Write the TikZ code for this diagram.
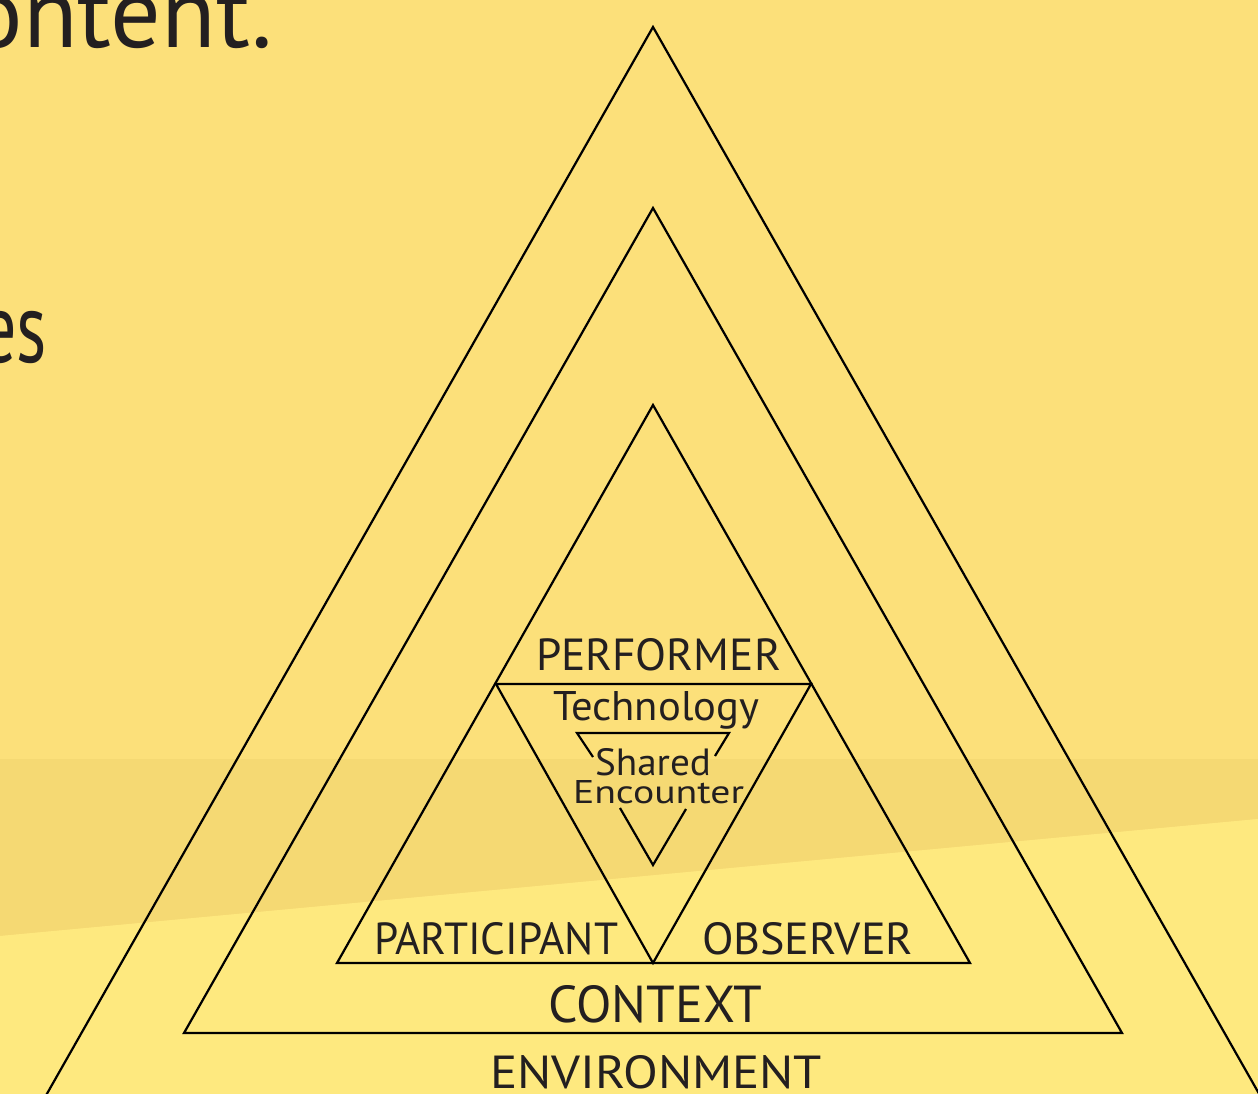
\documentclass[tikz,border=0pt]{standalone}
\usepackage{fontspec}
\setmainfont{PT Sans}
\definecolor{bgtop}{RGB}{252,224,122}
\definecolor{bgband}{RGB}{245,217,115}
\definecolor{bgbot}{RGB}{254,233,127}
\definecolor{ink}{RGB}{35,31,32}
\tikzset{
  tri/.style={draw=black, line width=2.2pt, line join=miter},
  lbl/.style={anchor=base west, inner sep=0pt, outer sep=0pt, text=ink},
  big/.style={anchor=base east, inner sep=0pt, outer sep=0pt, text=ink, font=\fontsize{100}{110}\selectfont}
}
\newcommand{\fitlbl}[3]{\resizebox{#1pt}{#2pt}{#3}}
\begin{document}
\begin{tikzpicture}[x=1pt,y=-1pt]
\useasboundingbox (0,0) rectangle (1258,1094);
\clip (0,0) rectangle (1258,1094);
% background
\fill[bgtop] (0,0) rectangle (1258,1094);
\fill[bgband] (0,759) -- (1258,759) -- (1258,819) -- (0,936) -- cycle;
\fill[bgbot] (0,936) -- (1258,819) -- (1258,1094) -- (0,1094) -- cycle;
% fragments of slide text
\node[big] (t1) at (273,48) {ontent.};
\node[big] (t2) at (47,362) {\scalebox{0.72}[1]{es}};
% triangles
\draw[tri] (15,1150) -- (653,27) -- (1291,1150);
\draw[tri] (184,1033) -- (653,208) -- (1122,1033) -- cycle;
\draw[tri] (337,963) -- (653,405) -- (970,963) -- cycle;
\draw[tri] (496,684) -- (811,684) -- (653,963) -- cycle;
% shared encounter triangle (broken by text)
\draw[tri] (593,757) -- (577,733) -- (729,733) -- (715,756);
\draw[tri] (620,808) -- (653,865) -- (686,809);
% labels
\node[lbl] (perf) at (536,670) {\fitlbl{245}{32}{PERFORMER}};
\node[lbl] (tech) at (553,720) {\fitlbl{206}{29}{Technology}};
\node[lbl] (shrd) at (595,775) {\fitlbl{116}{27}{Shared}};
\node[lbl] (enc) at (573,803) {\fitlbl{171}{23}{Encounter}};
\node[lbl] (part) at (374,954) {\fitlbl{244}{32}{PARTICIPANT}};
\node[lbl] (obs) at (702,954) {\fitlbl{211}{32}{OBSERVER}};
\node[lbl] (ctx) at (548,1022) {\fitlbl{214}{37}{CONTEXT}};
\node[lbl] (env) at (490,1088) {\fitlbl{332}{33}{ENVIRONMENT}};
\end{tikzpicture}
\end{document}
